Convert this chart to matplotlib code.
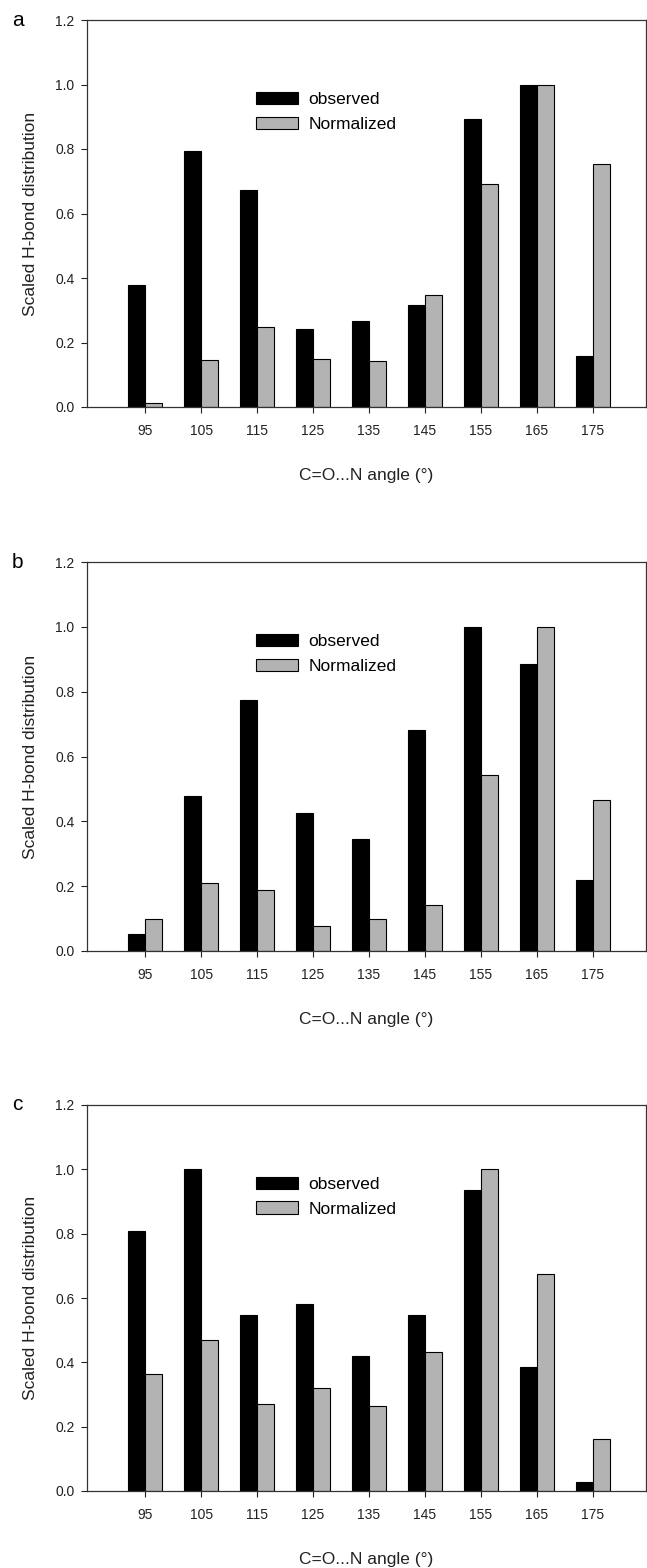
import numpy as np
import matplotlib.pyplot as plt

plt.rcParams['font.family'] = ['Liberation Sans', 'DejaVu Sans']

angles = [95, 105, 115, 125, 135, 145, 155, 165, 175]

obs_a = [0.378, 0.794, 0.672, 0.243, 0.267, 0.316, 0.892, 1.0, 0.157]
norm_a = [0.013, 0.145, 0.248, 0.150, 0.142, 0.347, 0.692, 1.0, 0.753]

obs_b = [0.051, 0.477, 0.774, 0.427, 0.346, 0.682, 1.0, 0.886, 0.220]
norm_b = [0.098, 0.210, 0.188, 0.078, 0.098, 0.143, 0.543, 1.0, 0.466]

obs_c = [0.807, 1.0, 0.547, 0.581, 0.419, 0.547, 0.935, 0.386, 0.028]
norm_c = [0.364, 0.469, 0.270, 0.320, 0.265, 0.432, 1.0, 0.674, 0.161]

panels = ['a', 'b', 'c']
yticks = [0.0, 0.2, 0.4, 0.6, 0.8, 1.0, 1.2]

W, H = 647, 1568
fig = plt.figure(figsize=(W / 100, H / 100), dpi=100)

# axes boxes in pixels: (top, bottom)
boxes = [(20, 407), (562, 951), (1105, 1491)]
left, right = 87, 646

gray = '#b3b3b3'
bw = 3.05
x = np.array(angles)

for (top, bot), letter, obs, norm in zip(boxes, panels,
                                         [obs_a, obs_b, obs_c],
                                         [norm_a, norm_b, norm_c]):
    ax = fig.add_axes([left / W, 1 - bot / H, (right - left) / W, (bot - top) / H])
    ax.bar(x - bw / 2, obs, bw, color='black', edgecolor='black', linewidth=0.8,
           label='observed')
    ax.bar(x + bw / 2, norm, bw, color=gray, edgecolor='black', linewidth=0.8,
           label='Normalized')
    ax.set_xlim(84.6, 184.5)
    ax.set_ylim(0, 1.2)
    ax.set_xticks(angles)
    ax.set_yticks(yticks)
    ax.set_yticklabels(['%.1f' % v for v in yticks])
    ax.tick_params(direction='out', length=4, width=0.8, labelsize=10,
                   colors='#222222')
    ax.tick_params(axis='x', pad=8)
    ax.tick_params(axis='y', pad=5)
    for s in ax.spines.values():
        s.set_linewidth(0.9)
        s.set_color('#333333')
    ax.set_xlabel('C=O...N angle (°)', fontsize=12.5, labelpad=22, color='#222222')
    ax.set_ylabel('Scaled H-bond distribution', fontsize=12.5, labelpad=12,
                  color='#222222')
    ax.legend(loc='upper left', bbox_to_anchor=(0.29, 0.832), frameon=False,
              fontsize=12.5, handlelength=2.4, handleheight=0.7,
              labelspacing=0.55, handletextpad=0.6, borderaxespad=0)
    fig.text(12 / W, 1 - top / H, letter, fontsize=15, ha='left', va='center')

fig.savefig('out.png', dpi=100)
